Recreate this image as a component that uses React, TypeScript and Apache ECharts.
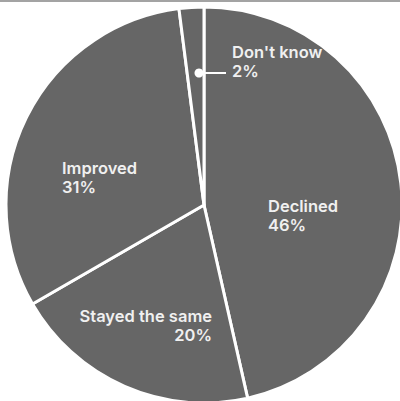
import React, { useEffect, useRef } from "react";
import * as echarts from "echarts";

const categories = ["Declined", "Stayed the same", "Improved", "Don't know"];
const values = [46, 20, 31, 2];
const percentLabels = ["46%", "20%", "31%", "2%"];

export default function App() {
  const ref = useRef<HTMLDivElement>(null);
  useEffect(() => {
    if (!ref.current) return;
    const chart = echarts.init(ref.current, null, { renderer: "svg" });
    const labelPos: Record<number, { x: number; y: number; align: string }> = {
      0: { x: 268, y: 196, align: "left" },
      1: { x: 212, y: 306, align: "right" },
      2: { x: 62, y: 158, align: "left" },
      3: { x: 232, y: 42, align: "left" },
    };
    chart.setOption({
      animation: false,
      graphic: [
        { type: "rect", shape: { x: 0, y: 0, width: 400, height: 2 }, style: { fill: "#a3a3a3" } },
        { type: "circle", shape: { cx: 199, cy: 73, r: 4.5 }, style: { fill: "#ffffff" }, z: 100 },
        { type: "line", shape: { x1: 199, y1: 73, x2: 226, y2: 73 }, style: { stroke: "#ffffff", lineWidth: 2 }, z: 100 },
      ],
      series: [
        {
          type: "pie",
          center: [204, 205],
          radius: 198,
          startAngle: 90,
          clockwise: true,
          silent: true,
          avoidLabelOverlap: false,
          itemStyle: { color: "#666666", borderColor: "#ffffff", borderWidth: 3 },
          label: {
            show: true,
            position: "inside",
            color: "#f0f0f0",
            fontFamily: "Inter",
            fontWeight: 600,
            fontSize: 16.5,
            lineHeight: 19,
            formatter: (p: any) => `${p.name}\n${percentLabels[p.dataIndex]}`,
          },
          labelLine: { show: false },
          labelLayout: (params: any) => {
            const pos = labelPos[params.dataIndex];
            return { x: pos.x, y: pos.y, align: pos.align, verticalAlign: "top", hideOverlap: false, moveOverlap: false };
          },
          data: categories.map((name, i) => ({ name, value: values[i] })),
        },
      ],
    });
    return () => chart.dispose();
  }, []);
  return (
    <div
      ref={ref}
      style={{ position: "fixed", left: 0, top: 0, width: 400, height: 401, background: "#ffffff" }}
    />
  );
}
